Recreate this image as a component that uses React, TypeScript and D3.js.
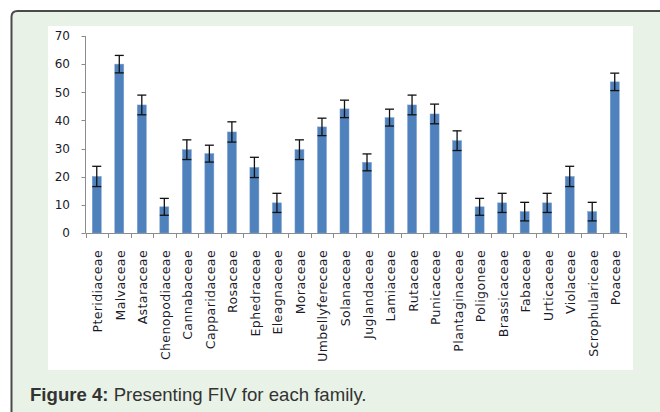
import React from "react";
import * as d3 from "d3";

const categories = [
  "Pteridiaceae", "Malvaceae", "Astaraceae", "Chenopodiaceae", "Cannabaceae",
  "Capparidaceae", "Rosaceae", "Ephedraceae", "Eleagnaceae", "Moraceae",
  "Umbellyfereceae", "Solanaceae", "Juglandaceae", "Lamiaceae", "Rutaceae",
  "Punicaceae", "Plantaginaceae", "Poligoneae", "Brassicaceae", "Fabaceae",
  "Urticaceae", "Violaceae", "Scrophulariceae", "Poaceae",
];
const values = [20.1, 60.0, 45.5, 9.3, 29.6, 28.2, 35.9, 23.3, 10.7, 29.6, 37.7, 44.1, 25.1, 41.0, 45.5, 42.3, 32.8, 9.3, 10.7, 7.6, 10.7, 20.1, 7.6, 53.7];
const errors = [3.6, 3.1, 3.5, 3.0, 3.5, 3.0, 3.6, 3.6, 3.4, 3.5, 3.1, 3.1, 3.0, 3.0, 3.5, 3.5, 3.5, 3.0, 3.4, 3.3, 3.4, 3.6, 3.3, 3.1];
const yTicks = [0, 10, 20, 30, 40, 50, 60, 70];
const captionBold = "Figure 4:";
const captionText = " Presenting FIV for each family.";

export default function App() {
  const W = 660, H = 412;
  const x0 = 85.5, x1 = 626, yTop = 36, yBot = 233;
  const x = d3.scaleBand<string>().domain(categories).range([x0, x1]).paddingInner(0).paddingOuter(0);
  const y = d3.scaleLinear().domain([0, 70]).range([yBot, yTop]);
  const bw = 9;
  const axisColor = "#8c8c8c";
  return (
    <div style={{ position: "fixed", left: 0, top: 0, width: W, height: H }}>
      <svg width={W} height={H} style={{ display: "block" }}>
        <rect x={0} y={0} width={W} height={H} fill="#ffffff" />
        <path d={`M12,${H} L12,17 Q12,11 18,11 L${W},11 L${W},${H} Z`} fill="#e8f2e6" />
        <path d={`M11.5,${H} L11.5,17 Q11.5,11 17.5,11 L${W},11`} fill="none" stroke="#4a4a4a" strokeWidth={2} />
        <rect x={48} y={26} width={585} height={344} fill="#ffffff" />
        {/* y axis */}
        <line x1={x0} x2={x0} y1={yTop} y2={yBot} stroke={axisColor} strokeWidth={1} />
        {yTicks.map((t) => (
          <g key={t}>
            <line x1={x0 - 4} x2={x0} y1={Math.round(y(t)) + 0.5} y2={Math.round(y(t)) + 0.5} stroke={axisColor} />
            <text x={70} y={y(t)} dy="0.36em" textAnchor="end" fontFamily="DejaVu Sans" fontSize={12} fill="#1a1a2a">{t}</text>
          </g>
        ))}
        {/* x axis */}
        <line x1={x0} x2={x1} y1={yBot + 0.5} y2={yBot + 0.5} stroke={axisColor} />
        {[...categories.map((c) => x(c) as number), x1].map((px, i) => (
          <line key={i} x1={Math.round(px) + 0.5} x2={Math.round(px) + 0.5} y1={yBot} y2={yBot + 5} stroke={axisColor} />
        ))}
        {/* bars */}
        {categories.map((c, i) => {
          const cx = (x(c) as number) + x.bandwidth() / 2;
          const v = values[i], e = errors[i];
          return (
            <g key={c}>
              <rect x={cx - bw / 2} y={y(v)} width={bw} height={yBot - y(v)} fill="#4f81bd" stroke="#7aa0cf" strokeWidth={0.5} />
              <line x1={cx} x2={cx} y1={y(v + e)} y2={y(v - e)} stroke="#111" strokeWidth={1.3} />
              <line x1={cx - 4.5} x2={cx + 4.5} y1={y(v + e)} y2={y(v + e)} stroke="#111" strokeWidth={1.3} />
              <line x1={cx - 4.5} x2={cx + 4.5} y1={y(v - e)} y2={y(v - e)} stroke="#111" strokeWidth={1.3} />
              <text transform={`translate(${cx + 1},${250}) rotate(-90)`} dy="0.36em" textAnchor="end"
                fontFamily="DejaVu Sans" fontSize={12.5} letterSpacing={0.4} fill="#1a1a2a">{c}</text>
            </g>
          );
        })}
        <text x={30} y={401} fontFamily="Liberation Sans, Arial" fontSize={18.6} fill="#333">
          <tspan fontWeight="bold">{captionBold}</tspan>
          <tspan>{captionText}</tspan>
        </text>
      </svg>
    </div>
  );
}
